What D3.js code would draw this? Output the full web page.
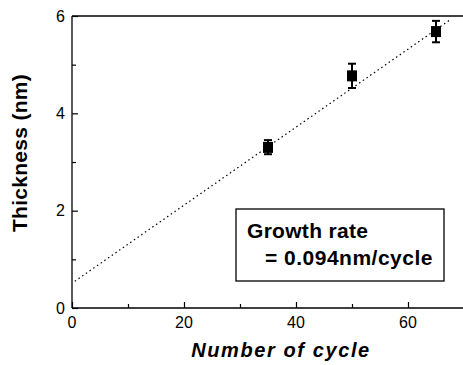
<!DOCTYPE html>
<html>
<head>
<meta charset="utf-8">
<script src="https://cdn.jsdelivr.net/npm/d3@7"></script>
<style>
  body { margin: 0; background: #fff; }
  text { font-family: "Liberation Sans", Arial, sans-serif; fill: #000; }
</style>
</head>
<body>
<div id="chart"></div>
<script>
// measured thickness vs number of cycles
var cycles = [35, 50, 65];
var thickness = [3.3, 4.77, 5.68];
var errLow = [0.14, 0.25, 0.22];
var errHigh = [0.15, 0.25, 0.22];

// fitted line end points
var fitX = [0.5, 67.5];
var fitY = [0.55, 5.92];

var xTicks = [0, 20, 40, 60];
var xMinor = [10, 30, 50];
var yTicks = [0, 2, 4, 6];
var yMinor = [1, 3, 5];

var svgWidth = 463, svgHeight = 365;
var margin = {top: 16, right: 0, bottom: 57, left: 72};
var width = svgWidth - margin.left - margin.right;
var height = svgHeight - margin.top - margin.bottom;

var svg = d3.select("#chart").append("svg")
    .attr("width", svgWidth).attr("height", svgHeight);

var g = svg.append("g")
    .attr("transform", `translate(${margin.left}, ${margin.top})`);

var x = d3.scaleLinear().domain([0, 70]).range([0, 392]);
var y = d3.scaleLinear().domain([0, 6]).range([height, 0]);

// frame: left, bottom, top
g.append("line").attr("x1", 0).attr("x2", 0).attr("y1", 0).attr("y2", height)
    .attr("stroke", "#000").attr("stroke-width", 1.3);
g.append("line").attr("x1", 0).attr("x2", width).attr("y1", height).attr("y2", height)
    .attr("stroke", "#000").attr("stroke-width", 1.3);
g.append("line").attr("x1", 0).attr("x2", width).attr("y1", 0).attr("y2", 0)
    .attr("stroke", "#000").attr("stroke-width", 1.3);

// inward ticks
var xAxis = d3.axisTop(x).tickValues(xTicks).tickSize(6).tickFormat("");
var xAxisMinor = d3.axisTop(x).tickValues(xMinor).tickSize(4).tickFormat("");
var yAxis = d3.axisRight(y).tickValues(yTicks).tickSize(6).tickFormat("");
var yAxisMinor = d3.axisRight(y).tickValues(yMinor).tickSize(4).tickFormat("");

[xAxis, xAxisMinor].forEach(a => {
    g.append("g").attr("transform", `translate(0, ${height})`).call(a)
        .call(s => s.select(".domain").remove())
        .selectAll("line").attr("stroke-width", 1.2);
});
[yAxis, yAxisMinor].forEach(a => {
    g.append("g").call(a)
        .call(s => s.select(".domain").remove())
        .selectAll("line").attr("stroke-width", 1.2);
});

// tick labels
g.selectAll(".xlab").data(xTicks).enter().append("text")
    .attr("x", d => x(d)).attr("y", height + 20)
    .attr("text-anchor", "middle").attr("font-size", 16).text(d => d);
g.selectAll(".ylab").data(yTicks).enter().append("text")
    .attr("x", -7).attr("y", d => y(d) + 5.5)
    .attr("text-anchor", "end").attr("font-size", 16).text(d => d);

// fit line
g.append("line")
    .attr("x1", x(fitX[0])).attr("y1", y(fitY[0]))
    .attr("x2", x(fitX[1])).attr("y2", y(fitY[1]))
    .attr("stroke", "#000").attr("stroke-width", 1.2)
    .attr("stroke-dasharray", "1.5,3");

// error bars and squares
var pts = cycles.map((c, i) => ({c: c, t: thickness[i], lo: errLow[i], hi: errHigh[i]}));
var pg = g.selectAll(".pt").data(pts).enter().append("g");
pg.append("line")
    .attr("x1", d => x(d.c)).attr("x2", d => x(d.c))
    .attr("y1", d => y(d.t - d.lo)).attr("y2", d => y(d.t + d.hi))
    .attr("stroke", "#000").attr("stroke-width", 2);
pg.append("line")
    .attr("x1", d => x(d.c) - 4).attr("x2", d => x(d.c) + 4)
    .attr("y1", d => y(d.t + d.hi)).attr("y2", d => y(d.t + d.hi))
    .attr("stroke", "#000").attr("stroke-width", 2);
pg.append("line")
    .attr("x1", d => x(d.c) - 4).attr("x2", d => x(d.c) + 4)
    .attr("y1", d => y(d.t - d.lo)).attr("y2", d => y(d.t - d.lo))
    .attr("stroke", "#000").attr("stroke-width", 2);
pg.append("rect")
    .attr("x", d => x(d.c) - 5).attr("y", d => y(d.t) - 5.5)
    .attr("width", 10).attr("height", 11).attr("fill", "#000");

// annotation box
svg.append("rect").attr("x", 236).attr("y", 209).attr("width", 208).attr("height", 72)
    .attr("fill", "#fff").attr("stroke", "#000").attr("stroke-width", 1.3);
svg.append("text").attr("x", 247).attr("y", 238)
    .attr("font-size", 21).attr("font-weight", "bold").attr("letter-spacing", 0.3)
    .text("Growth rate");
svg.append("text").attr("x", 433).attr("y", 265).attr("text-anchor", "end")
    .attr("font-size", 21).attr("font-weight", "bold").attr("letter-spacing", 0.5)
    .text("= 0.094nm/cycle");

// axis titles
svg.append("text").attr("x", 281).attr("y", 357).attr("text-anchor", "middle")
    .attr("font-size", 20).attr("font-weight", "bold").attr("font-style", "italic")
    .attr("letter-spacing", 1.6).text("Number of cycle");
svg.append("text")
    .attr("transform", "translate(27, 153) rotate(-90)")
    .attr("text-anchor", "middle").attr("font-size", 21).attr("font-weight", "bold")
    .attr("letter-spacing", 0.3).text("Thickness (nm)");
</script>
</body>
</html>
